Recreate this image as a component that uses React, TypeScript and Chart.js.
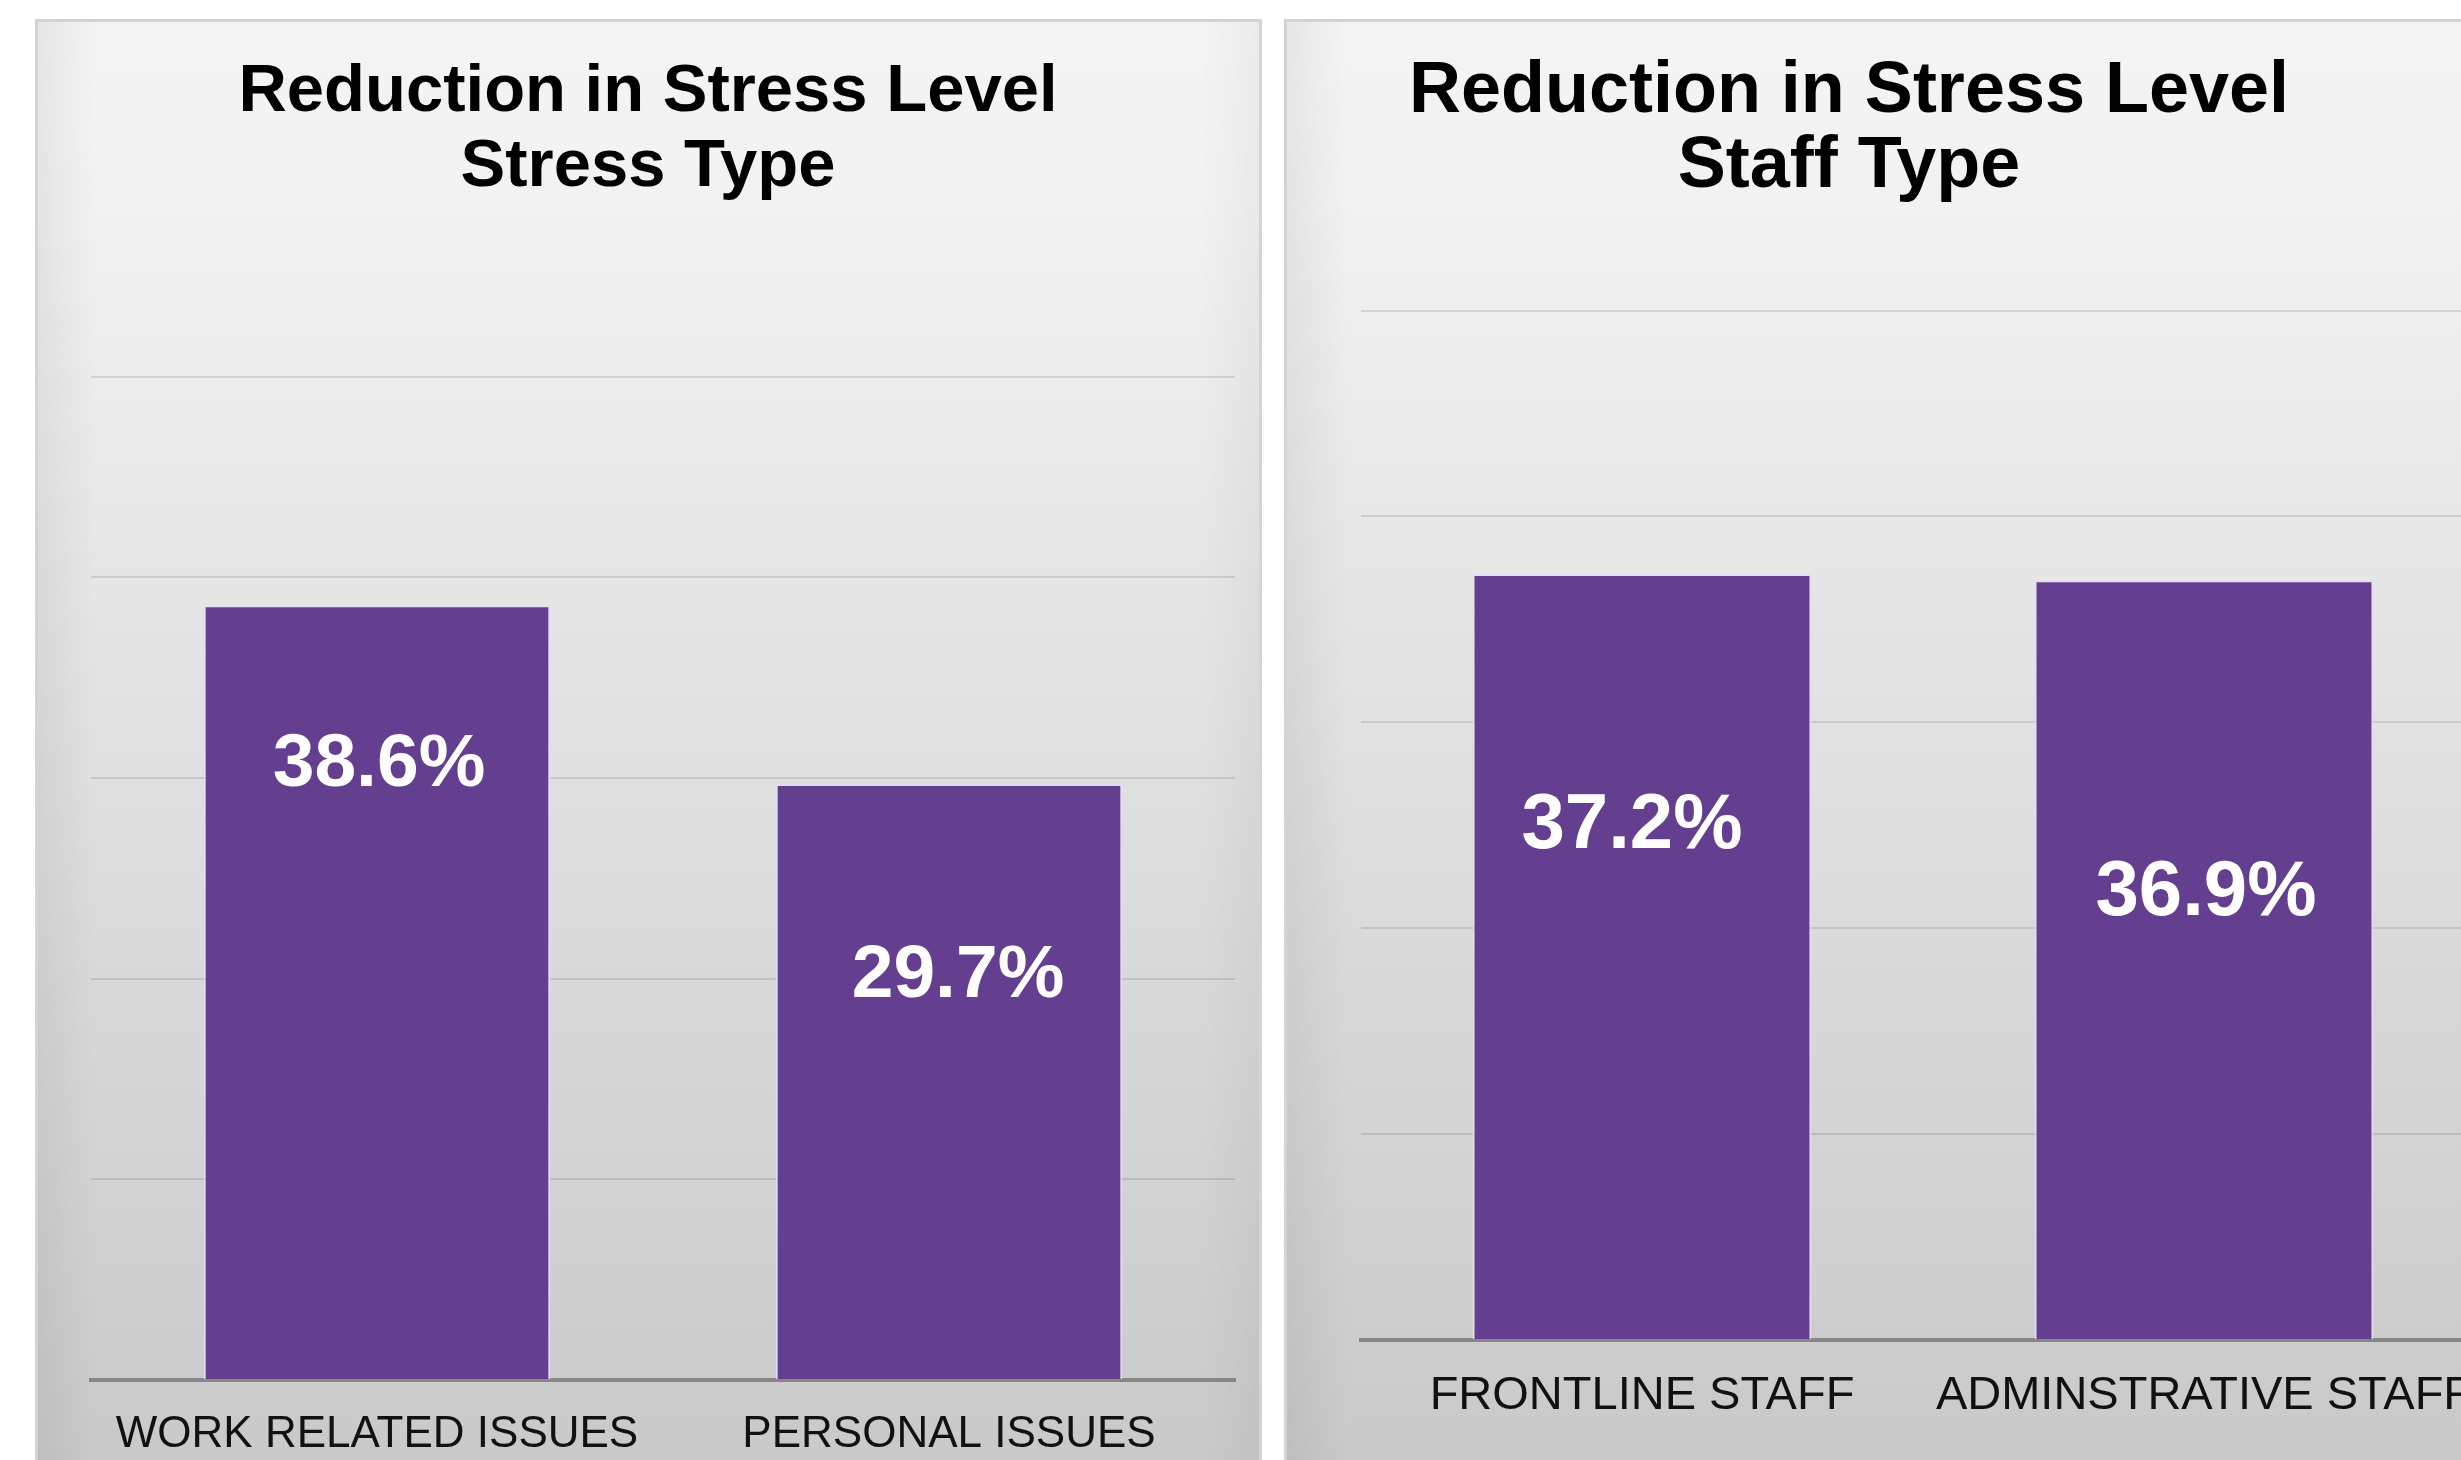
import { useEffect, useRef } from 'react';
import { Chart, registerables } from 'chart.js';

Chart.register(...registerables);

const stressCategories = ['WORK RELATED ISSUES', 'PERSONAL ISSUES'];
const stressValues = [38.6, 29.7];
const staffCategories = ['FRONTLINE STAFF', 'ADMINSTRATIVE STAFF'];
const staffValues = [37.2, 36.9];
const yMin = 0;
const yMax = 50;
const yStep = 10;

const FONT = '"Liberation Sans", Arial, Helvetica, sans-serif';

const panelBg = {
  id: 'panelBg',
  beforeDraw(chart: any) {
    const { ctx, width, height } = chart;
    ctx.save();
    const g = ctx.createLinearGradient(0, 0, 0, height);
    g.addColorStop(0, '#f4f4f4');
    g.addColorStop(0.12, '#f2f2f2');
    g.addColorStop(0.5, '#e1e1e1');
    g.addColorStop(1, '#c9c9c9');
    ctx.fillStyle = g;
    ctx.fillRect(0, 0, width, height);
    const h = ctx.createLinearGradient(0, 0, width, 0);
    h.addColorStop(0, 'rgba(0,0,0,0.06)');
    h.addColorStop(0.05, 'rgba(0,0,0,0.0)');
    h.addColorStop(0.95, 'rgba(0,0,0,0.0)');
    h.addColorStop(1, 'rgba(0,0,0,0.04)');
    ctx.fillStyle = h;
    ctx.fillRect(0, 0, width, height);
    ctx.strokeStyle = '#d4d4d4';
    ctx.lineWidth = 3;
    ctx.strokeRect(1.5, 1.5, width - 3, height + 10);
    ctx.restore();
  },
};

const valueLabels = {
  id: 'valueLabels',
  afterDraw(chart: any, _args: any, opts: any) {
    const { ctx } = chart;
    const meta = chart.getDatasetMeta(0);
    const data = chart.data.datasets[0].data as number[];
    ctx.save();
    ctx.font = `bold ${opts.size}px ${FONT}`;
    ctx.fillStyle = '#ffffff';
    ctx.textAlign = 'center';
    ctx.textBaseline = 'middle';
    meta.data.forEach((bar: any, i: number) => {
      ctx.fillText(`${data[i].toFixed(1)}%`, bar.x + opts.dx[i], bar.y + opts.dy[i]);
    });
    ctx.restore();
  },
};

type PanelCfg = {
  title: string[];
  categories: string[];
  values: number[];
  titleSize: number;
  labelSize: number;
  tickSize: number;
  padLeft: number;
  padRight: number;
  yWidth: number;
  xHeight: number;
  titleBottom: number;
  barPct: number;
  dx: number[];
  dy: number[];
};

function BarPanel({ cfg, left, top, width, height }: { cfg: PanelCfg; left: number; top: number; width: number; height: number }) {
  const ref = useRef<HTMLCanvasElement | null>(null);
  useEffect(() => {
    if (!ref.current) return;
    const chart = new Chart(ref.current, {
      type: 'bar',
      data: {
        labels: cfg.categories,
        datasets: [
          {
            data: cfg.values,
            backgroundColor: '#643f90',
            borderColor: 'rgba(228,220,242,0.95)',
            borderWidth: 2,
            borderSkipped: 'bottom',
            barPercentage: cfg.barPct,
            categoryPercentage: 1,
          },
        ],
      },
      options: {
        animation: false,
        responsive: false,
        maintainAspectRatio: false,
        layout: { padding: { left: cfg.padLeft, right: cfg.padRight, top: 0, bottom: 0 } },
        plugins: {
          legend: { display: false },
          tooltip: { enabled: false },
          title: {
            display: true,
            text: cfg.title,
            color: '#000000',
            font: { family: FONT, size: cfg.titleSize, weight: 'bold', lineHeight: 75 / cfg.titleSize },
            padding: { top: 36, bottom: cfg.titleBottom },
          },
          valueLabels: { size: cfg.labelSize, dx: cfg.dx, dy: cfg.dy },
        } as any,
        scales: {
          x: {
            grid: { display: false, drawTicks: false },
            border: { display: true, color: '#878787', width: 4 } as any,
            ticks: { color: '#111111', font: { family: FONT, size: cfg.tickSize }, padding: 28 },
            afterFit: (s: any) => {
              s.height = cfg.xHeight;
            },
          },
          y: {
            min: yMin,
            max: yMax,
            z: 1,
            ticks: { display: false, stepSize: yStep },
            grid: { color: 'rgba(0,0,0,0.11)', lineWidth: 2, drawTicks: false },
            border: { display: false },
            afterFit: (s: any) => {
              s.width = cfg.yWidth;
            },
          },
        },
      },
      plugins: [panelBg, valueLabels],
    });
    return () => chart.destroy();
  }, [cfg]);
  return (
    <canvas
      ref={ref}
      width={width}
      height={height}
      style={{ position: 'absolute', left, top, width, height, display: 'block' }}
    />
  );
}

const leftCfg: PanelCfg = {
  title: ['Reduction in Stress Level', 'Stress Type'],
  categories: stressCategories,
  values: stressValues,
  titleSize: 67,
  labelSize: 75,
  tickSize: 44,
  padLeft: 26,
  padRight: 27,
  yWidth: 30,
  xHeight: 80,
  titleBottom: 171.5,
  barPct: 0.606,
  dx: [2, 9],
  dy: [160, 192],
};

const rightCfg: PanelCfg = {
  title: ['Reduction in Stress Level', 'Staff Type'],
  categories: staffCategories,
  values: staffValues,
  titleSize: 72,
  labelSize: 78,
  tickSize: 47,
  padLeft: -71,
  padRight: 99,
  yWidth: 148,
  xHeight: 120,
  titleBottom: 105.5,
  barPct: 0.603,
  dx: [-10, 2],
  dy: [252, 313],
};

export default function App() {
  return (
    <div
      style={{
        position: 'fixed',
        left: 0,
        top: 0,
        width: 2461,
        height: 1460,
        overflow: 'hidden',
        background: '#ffffff',
      }}
    >
      <BarPanel cfg={leftCfg} left={35} top={19} width={1227} height={1441} />
      <BarPanel cfg={rightCfg} left={1284} top={19} width={1300} height={1441} />
    </div>
  );
}
